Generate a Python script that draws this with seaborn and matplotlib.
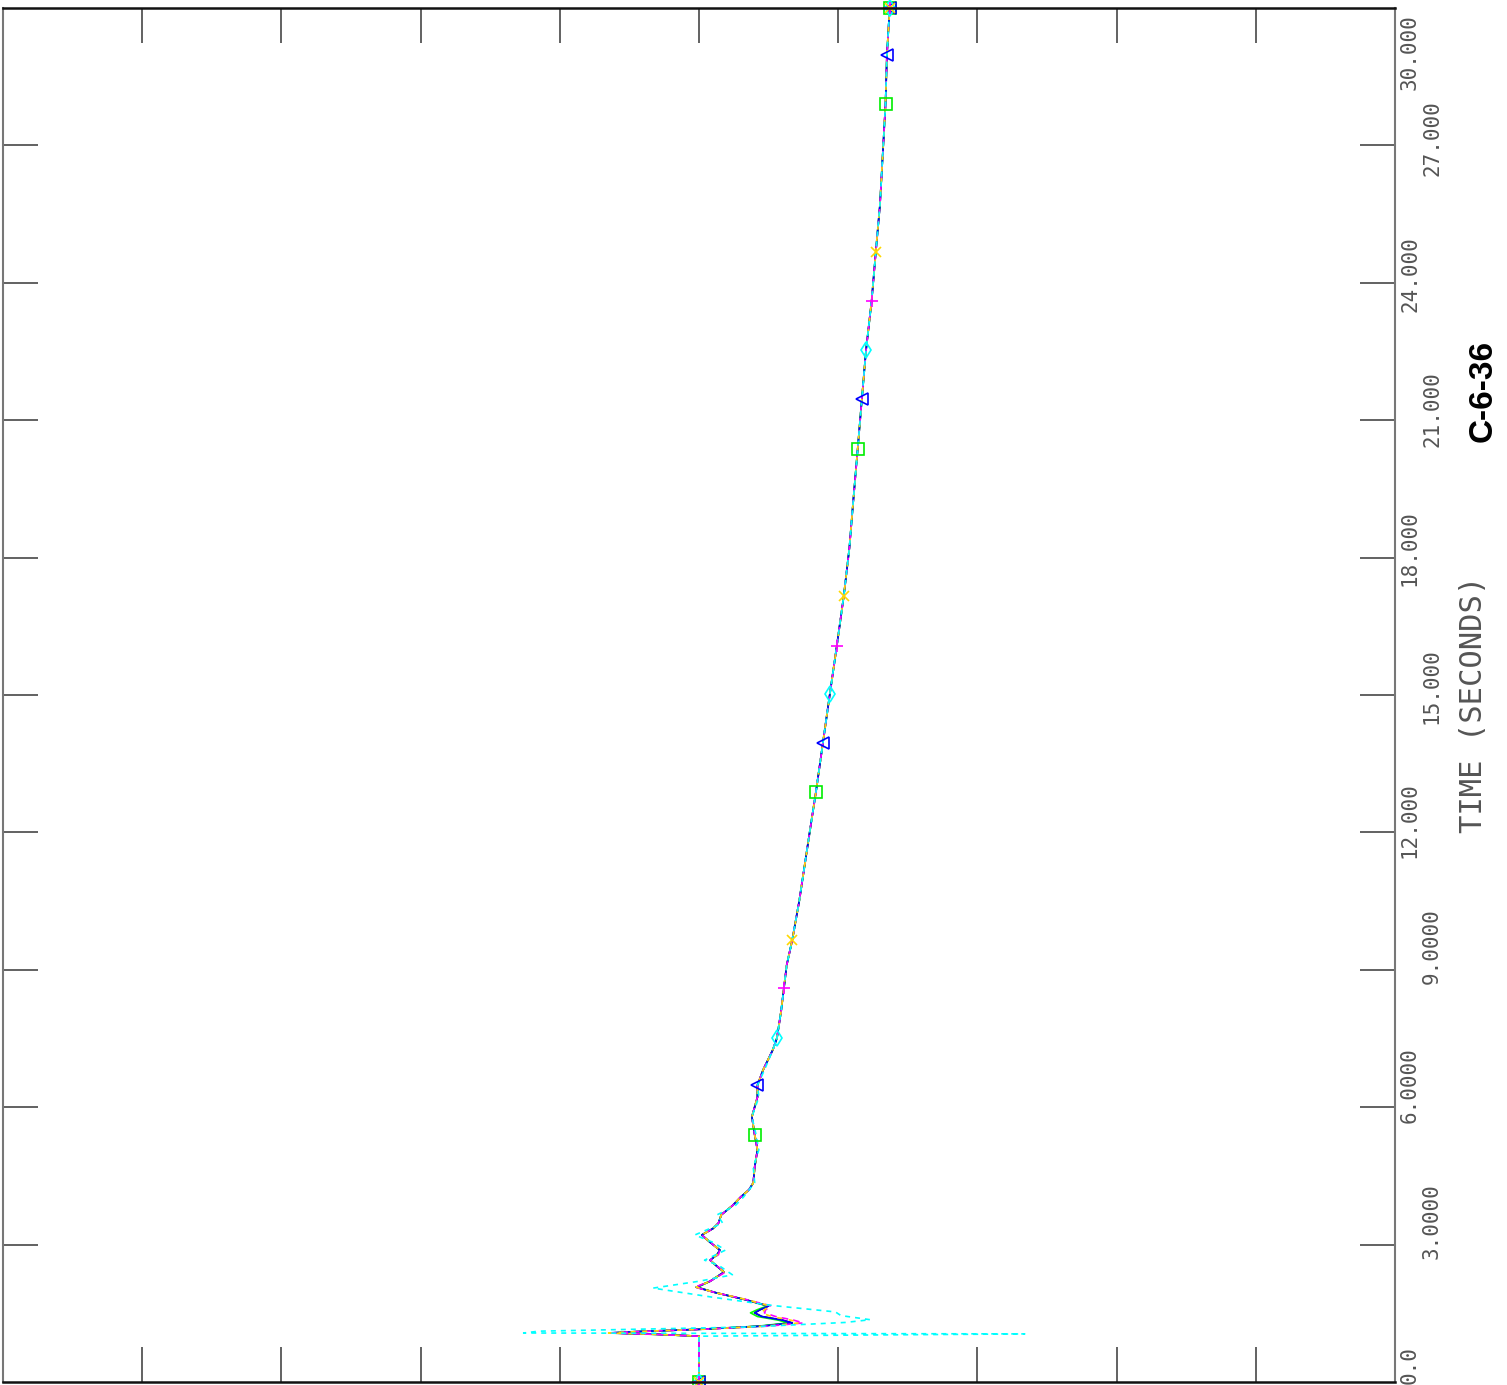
import matplotlib
matplotlib.use("Agg")
import matplotlib.pyplot as plt
import seaborn as sns

# time (seconds) runs up the page, response runs across
time_main = [0.0, 1.00, 1.04, 1.07, 1.10, 1.15, 1.22, 1.29, 1.35, 1.43, 1.51, 1.58, 1.66,
             1.80, 1.95, 2.07, 2.20, 2.40, 2.55, 2.66, 2.78, 2.88, 3.05, 3.21, 3.35, 3.47,
             3.65, 3.85, 4.04, 4.20, 4.35, 4.69, 5.07, 5.40, 5.79, 6.22, 6.48, 6.81, 7.25,
             7.51, 8.10, 8.60, 9.10, 9.65, 10.5, 11.3, 12.1, 12.88, 13.95, 15.02, 16.07,
             17.16, 18.2, 19.3, 20.37, 21.46, 22.53, 23.60, 24.67, 25.7, 26.8, 27.90,
             28.97, 30.0]
resp_blue = [0.0, 0.0, -0.30, -0.64, -0.45, 0.0, 0.45, 0.67, 0.60, 0.45, 0.40, 0.44, 0.50,
             0.33, 0.12, -0.02, 0.08, 0.18, 0.12, 0.08, 0.13, 0.15, 0.08, 0.02, 0.10, 0.14,
             0.16, 0.24, 0.30, 0.36, 0.39, 0.40, 0.42, 0.40, 0.38, 0.42, 0.42, 0.46, 0.53,
             0.56, 0.59, 0.61, 0.63, 0.67, 0.72, 0.76, 0.80, 0.84, 0.89, 0.94, 0.99,
             1.04, 1.08, 1.11, 1.14, 1.17, 1.20, 1.24, 1.27, 1.30, 1.32, 1.34,
             1.35, 1.37]
resp_green = [0.0, 0.0, -0.30, -0.62, -0.44, 0.0, 0.43, 0.64, 0.57, 0.42, 0.37, 0.42, 0.49,
              0.33, 0.12, -0.01, 0.08, 0.18, 0.12, 0.08, 0.13, 0.15, 0.08, 0.02, 0.10, 0.14,
              0.16, 0.24, 0.30, 0.36, 0.39, 0.40, 0.42, 0.40, 0.38, 0.42, 0.42, 0.46, 0.53,
              0.56, 0.59, 0.61, 0.63, 0.67, 0.72, 0.76, 0.80, 0.84, 0.89, 0.94, 0.99,
              1.04, 1.08, 1.11, 1.14, 1.17, 1.20, 1.24, 1.27, 1.30, 1.32, 1.34,
              1.35, 1.37]
resp_magenta = [0.0, 0.0, -0.32, -0.66, -0.45, 0.02, 0.50, 0.75, 0.68, 0.55, 0.47, 0.48, 0.52,
                0.34, 0.12, -0.03, 0.08, 0.19, 0.12, 0.08, 0.14, 0.15, 0.08, 0.02, 0.10, 0.14,
                0.16, 0.24, 0.30, 0.36, 0.39, 0.40, 0.42, 0.40, 0.38, 0.42, 0.42, 0.46, 0.53,
                0.56, 0.59, 0.61, 0.63, 0.67, 0.72, 0.76, 0.80, 0.84, 0.89, 0.94, 0.99,
                1.04, 1.08, 1.11, 1.14, 1.17, 1.20, 1.24, 1.27, 1.30, 1.32, 1.34,
                1.35, 1.37]
resp_yellow = [0.0, 0.0, -0.31, -0.65, -0.45, 0.01, 0.48, 0.72, 0.66, 0.52, 0.45, 0.47, 0.51,
               0.34, 0.12, -0.02, 0.08, 0.18, 0.12, 0.08, 0.13, 0.15, 0.08, 0.02, 0.10, 0.14,
               0.16, 0.24, 0.30, 0.36, 0.39, 0.40, 0.42, 0.40, 0.38, 0.42, 0.42, 0.46, 0.53,
               0.56, 0.59, 0.61, 0.63, 0.67, 0.72, 0.76, 0.80, 0.84, 0.89, 0.94, 0.99,
               1.04, 1.08, 1.11, 1.14, 1.17, 1.20, 1.24, 1.27, 1.30, 1.32, 1.34,
               1.35, 1.37]

time_cyan = [0.0, 1.00, 1.05, 1.07, 1.11, 1.20, 1.30, 1.36, 1.45, 1.53, 1.67, 1.85, 2.05,
             2.20, 2.34, 2.55, 2.66, 2.88, 3.05, 3.21, 3.47, 3.65, 3.85, 4.04, 4.35, 4.69,
             5.07, 5.40, 5.79, 6.22, 6.48, 6.81, 7.25, 7.51, 8.10, 8.60, 9.10, 9.65, 10.5,
             11.3, 12.1, 12.88, 13.95, 15.02, 16.07, 17.16, 18.2, 19.3, 20.37, 21.46,
             22.53, 23.60, 24.67, 25.7, 26.8, 27.90, 28.97, 30.0]
resp_cyan = [0.0, 0.0, 2.34, -1.26, -1.15, 0.35, 1.05, 1.23, 1.02, 0.98, 0.53, 0.10, -0.33,
             0.0, 0.24, 0.14, 0.04, 0.19, 0.10, -0.03, 0.17, 0.13, 0.26, 0.32, 0.40, 0.39,
             0.43, 0.41, 0.38, 0.43, 0.42, 0.47, 0.53, 0.56, 0.59, 0.61, 0.63, 0.67, 0.72,
             0.76, 0.80, 0.84, 0.89, 0.94, 0.99, 1.04, 1.08, 1.11, 1.14, 1.17,
             1.20, 1.24, 1.27, 1.30, 1.32, 1.34, 1.35, 1.37]

# marker positions along each curve
sq_time = [0.0, 5.40, 12.88, 20.37, 27.90, 30.0]
sq_resp = [0.0, 0.40, 0.84, 1.14, 1.34, 1.37]
tri_time = [0.0, 6.48, 13.95, 21.46, 28.97, 30.0]
tri_resp = [0.0, 0.42, 0.89, 1.17, 1.35, 1.37]
dia_time = [0.0, 7.51, 15.02, 22.53, 30.0]
dia_resp = [0.0, 0.56, 0.94, 1.20, 1.37]
plus_time = [0.0, 8.60, 16.07, 23.60, 30.0]
plus_resp = [0.0, 0.61, 0.99, 1.24, 1.37]
x_time = [0.0, 9.65, 17.16, 24.67, 30.0]
x_resp = [0.0, 0.67, 1.04, 1.27, 1.37]

time_ticks = [0, 3, 6, 9, 12, 15, 18, 21, 24, 27, 30]
time_labels = ["0.0", "3.0000", "6.0000", "9.0000", "12.000", "15.000",
               "18.000", "21.000", "24.000", "27.000", "30.000"]
resp_ticks = [-4, -3, -2, -1, 0, 1, 2, 3, 4]

sns.set_style("white")
W, H = 1507, 1385
fig = plt.figure(figsize=(W / 100, H / 100), dpi=100)
ax = fig.add_axes([3 / W, 3 / H, 1392 / W, 1374 / H])

lw = 1.2
sns.lineplot(x=resp_blue, y=time_main, sort=False, estimator=None, orient="y",
             color="black", lw=lw, ax=ax)
sns.lineplot(x=resp_green, y=time_main, sort=False, estimator=None, orient="y",
             color="#00ff00", lw=lw, ax=ax)
sns.lineplot(x=resp_blue, y=time_main, sort=False, estimator=None, orient="y",
             color="#0000ff", lw=lw, ax=ax)
sns.lineplot(x=resp_magenta, y=time_main, sort=False, estimator=None, orient="y",
             color="#ff00ff", lw=lw, linestyle=(0, (4, 3)), ax=ax)
sns.lineplot(x=resp_yellow, y=time_main, sort=False, estimator=None, orient="y",
             color="#ffd800", lw=lw, linestyle=(3, (3, 4)), ax=ax)
sns.lineplot(x=resp_cyan, y=time_cyan, sort=False, estimator=None, orient="y",
             color="#00ffff", lw=lw, linestyle=(0, (3, 3)), ax=ax)

mk = dict(linestyle="none", clip_on=False, markeredgewidth=1.2)
ax.plot(sq_resp, sq_time, marker="s", ms=8.5, mfc="none", mec="#00ee00", **mk)
ax.plot(tri_resp, tri_time, marker="<", ms=8.5, mfc="none", mec="#0000ff", **mk)
ax.plot(dia_resp, dia_time, marker="d", ms=8.5, mfc="none", mec="#00ffff", **mk)
ax.plot(plus_resp, plus_time, marker="+", ms=8.5, mec="#ff00ff", **mk)
ax.plot(x_resp, x_time, marker="x", ms=7, mec="#ffd800", **mk)

ax.set_xlim(-5, 5)
ax.set_ylim(0, 30)
ax.set_xticks(resp_ticks)
ax.set_yticks(time_ticks[1:-1])
ax.tick_params(direction="in", length=25, width=1.3, color="#555555",
               top=True, bottom=True, left=True, right=True,
               labelleft=False, labelbottom=False, labelright=False, labeltop=False)
for side in ["left", "right"]:
    ax.spines[side].set_color("#777777")
    ax.spines[side].set_linewidth(1.5)
for side in ["top", "bottom"]:
    ax.spines[side].set_color("#111111")
    ax.spines[side].set_linewidth(1.8)
ax.set_xlabel("")
ax.set_ylabel("")

# tick labels, rotated, in two staggered columns as on the original plotter output
drop_px = [2, 14, 16, 14, 26, 29, 28, 27, 29, 31, 82]
for i, (t, lab) in enumerate(zip(time_ticks, time_labels)):
    dx = 15 if i % 2 == 0 else 37
    ax.annotate(lab, xy=(1, t), xycoords=ax.get_yaxis_transform(),
                xytext=(dx * 0.72, -drop_px[i] * 0.72), textcoords="offset points",
                rotation=90, rotation_mode="anchor", ha="left", va="center",
                family="DejaVu Sans Mono", fontsize=15, color="#555555",
                annotation_clip=False)

fig.text(1474 / W, 1 - 704 / H, "TIME (SECONDS)", rotation=90, ha="center", va="center",
         family="DejaVu Sans Mono", fontsize=22, color="#555555")
fig.text(1483 / W, 1 - 391 / H, "C-6-36", rotation=90, ha="center", va="center",
         family="Liberation Sans", fontsize=24, fontweight="bold", color="black")

fig.savefig("out.png", dpi=100)
